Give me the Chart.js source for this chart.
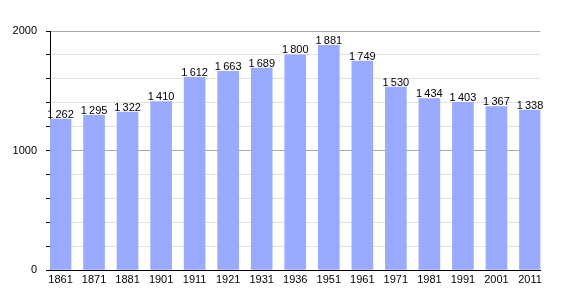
<!DOCTYPE html>
<html>
<head>
<meta charset="utf-8">
<script src="https://cdn.jsdelivr.net/npm/chart.js@4/dist/chart.umd.min.js"></script>
<style>
  html, body { margin: 0; padding: 0; background: #fff; }
  #wrap { width: 570px; height: 300px; }
</style>
</head>
<body>
<div id="wrap"><canvas id="popChart" width="570" height="300"></canvas></div>
<script>
// Census years and population
const years = ['1861', '1871', '1881', '1901', '1911', '1921', '1931', '1936', '1951', '1961', '1971', '1981', '1991', '2001', '2011'];
const population = [1262, 1295, 1322, 1410, 1612, 1663, 1689, 1800, 1881, 1749, 1530, 1434, 1403, 1367, 1338];
const yLabels = [0, 1000, 2000];

const barColor = '#99aaff';
const fontFamily = '"Liberation Sans", Arial, sans-serif';
const fontSize = 11;

// thin space as thousands separator, like "1 262"
function formatPop(v) {
    return String(v).replace(/\B(?=(\d{3})+(?!\d))/g, '\u2009');
}

// draws the value above each bar
const valueLabels = {
    id: 'valueLabels',
    afterDatasetsDraw(chart) {
        const ctx = chart.ctx;
        const meta = chart.getDatasetMeta(0);
        ctx.save();
        ctx.font = fontSize + 'px ' + fontFamily;
        ctx.fillStyle = '#000';
        ctx.textAlign = 'center';
        ctx.textBaseline = 'bottom';
        meta.data.forEach((bar, i) => {
            ctx.fillText(formatPop(population[i]), bar.x, bar.y + 1);
        });
        ctx.restore();
    }
};

const ctx = document.getElementById('popChart').getContext('2d');
new Chart(ctx, {
    type: 'bar',
    data: {
        datasets: [{
            data: population.map((v, i) => ({ x: i, y: v })),
            backgroundColor: barColor,
            borderWidth: 0,
            barThickness: 21
        }]
    },
    options: {
        responsive: false,
        animation: false,
        layout: { padding: { top: 31, right: 29.5, bottom: 0, left: 0 } },
        plugins: {
            legend: { display: false },
            tooltip: { enabled: false }
        },
        scales: {
            x: {
                type: 'linear',
                offset: false,
                min: -0.3134,
                max: 14.3134,
                afterFit: s => { s.height = 30; },
                afterBuildTicks: s => { s.ticks = years.map((y, i) => ({ value: i })); },
                grid: { display: false, drawTicks: false, offset: false },
                border: { color: '#000', width: 1 },
                ticks: {
                    autoSkip: false,
                    maxRotation: 0,
                    padding: 3,
                    color: '#000',
                    font: { family: fontFamily, size: fontSize },
                    callback: v => years[v]
                }
            },
            y: {
                min: 0,
                max: 2000,
                afterFit: s => { s.width = 50; },
                grid: {
                    color: c => (c.tick && yLabels.includes(c.tick.value)) ? '#aaaaaa' : '#e2e2e2',
                    tickColor: '#000',
                    tickLength: 4
                },
                border: { color: '#000', width: 1 },
                ticks: {
                    stepSize: 200,
                    padding: 9,
                    color: '#000',
                    font: { family: fontFamily, size: fontSize },
                    callback: v => yLabels.includes(v) ? String(v) : ''
                }
            }
        }
    },
    plugins: [valueLabels]
});
</script>
</body>
</html>
